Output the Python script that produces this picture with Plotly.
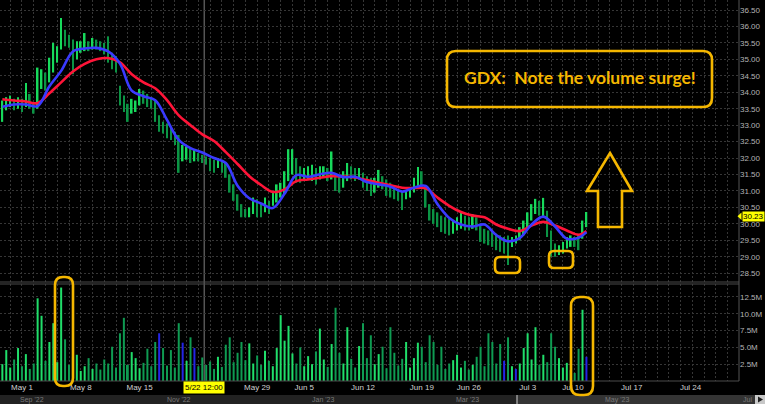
import plotly.graph_objects as go

W, H = 765, 404
MR, MB = 26, 23
PW, PH = W - MR, H - MB


def fx(px):
    return px / PW


def fy(py):
    return (PH - py) / PH


# ---------------- data ----------------
first_day = -1.67          # session offset of the first bar (May 1 = 0)
bars_per_day = 3

high = [33.75, 33.85, 33.90, 33.80, 33.85, 33.80, 34.28, 33.95, 33.70, 34.75,
        34.70, 34.60, 35.05, 35.50, 35.40, 36.26, 35.90, 35.75, 35.60, 35.55,
        35.55, 35.80, 35.55, 35.65, 35.60, 35.55, 35.50, 35.70, 35.20, 35.10,
        34.20, 33.90, 33.65, 33.80, 33.75, 34.10, 34.05, 33.95, 33.85, 33.75,
        33.30, 33.10, 33.05, 32.95, 32.80, 32.70, 32.40, 32.35, 32.30, 32.25,
        32.15, 32.10, 32.05, 32.00, 31.95, 32.00, 31.90, 31.85, 31.50, 31.20,
        30.90, 30.60, 30.45, 30.50, 30.80, 30.75, 30.60, 30.80, 30.70, 31.00,
        31.20, 31.25, 31.60, 32.27, 32.27, 32.00, 31.75, 31.70, 31.75, 31.80,
        31.70, 31.75, 31.75, 31.70, 32.20, 31.55, 31.45, 31.60, 31.85, 31.75,
        31.70, 31.70, 31.55, 31.45, 31.40, 31.40, 31.64, 31.45, 31.35, 31.25,
        31.15, 31.05, 31.00, 31.00, 31.05, 31.40, 31.73, 31.60, 31.10, 30.60,
        30.45, 30.35, 30.25, 30.20, 30.15, 30.10, 30.20, 30.36, 30.25, 30.20,
        30.30, 30.20, 30.00, 29.85, 29.80, 29.75, 29.70, 29.65, 29.60, 29.65,
        29.60, 29.65, 29.90, 30.10, 30.35, 30.60, 30.76, 30.70, 30.79, 30.40,
        29.80, 29.40, 29.35, 29.45, 29.60, 29.65, 29.60, 29.70, 30.10, 30.36]

low = [33.10, 33.45, 33.55, 33.45, 33.50, 33.40, 33.55, 33.50, 33.35, 33.50,
       34.10, 34.05, 34.30, 34.60, 34.90, 35.30, 35.40, 35.35, 34.55, 35.00,
       35.20, 35.25, 35.25, 35.30, 35.30, 35.25, 35.15, 34.90, 34.70, 34.60,
       33.60, 33.40, 33.10, 33.35, 33.40, 33.60, 33.65, 33.55, 33.50, 33.10,
       32.80, 32.75, 32.60, 32.55, 32.40, 31.55, 31.90, 31.95, 31.85, 31.90,
       31.90, 31.85, 31.80, 31.60, 31.55, 31.70, 31.55, 31.40, 30.95, 30.70,
       30.40, 30.20, 30.20, 30.20, 30.30, 30.20, 30.20, 30.35, 30.30, 30.55,
       30.65, 30.80, 30.90, 31.30, 31.50, 31.25, 31.25, 31.30, 31.35, 31.30,
       31.20, 31.35, 31.40, 31.30, 31.35, 31.00, 30.95, 31.10, 31.30, 31.35,
       31.30, 31.35, 31.10, 31.00, 30.85, 30.95, 31.10, 31.05, 30.85, 30.80,
       30.75, 30.70, 30.42, 30.75, 30.80, 30.95, 31.15, 31.10, 30.50, 30.10,
       30.00, 29.90, 29.75, 29.70, 29.65, 29.70, 29.80, 29.85, 29.80, 29.80,
       29.85, 29.80, 29.45, 29.40, 29.35, 29.30, 29.20, 29.15, 29.10, 28.75,
       29.30, 29.40, 29.50, 29.65, 29.90, 30.10, 30.30, 30.25, 30.20, 29.60,
       29.00, 29.00, 29.05, 29.10, 29.25, 29.30, 29.30, 29.20, 29.55, 29.90]

volume_m = [2.5, 4.6, 2.0, 3.2, 4.9, 2.2, 4.0, 1.8, 2.6, 12.3,
            9.7, 3.0, 5.8, 8.6, 2.8, 13.9, 6.2, 2.4, 3.6, 3.9,
            1.5, 2.2, 3.4, 1.8, 2.6, 1.7, 3.2, 2.6, 5.1, 2.0,
            7.1, 9.4, 2.4, 4.3, 3.4, 1.9, 2.7, 4.8, 2.2, 5.8,
            7.1, 4.9, 2.3, 4.6, 2.0, 8.6, 5.7, 3.0, 6.5, 4.9,
            2.2, 3.5, 2.4, 2.9, 1.8, 3.6, 2.1, 5.4, 6.5, 2.8,
            4.2, 5.8, 3.1, 5.6, 2.6, 3.8, 2.4, 4.5, 3.0, 2.2,
            4.9, 9.8, 6.0, 8.2, 4.1, 2.6, 5.0, 2.2, 3.7, 2.5,
            4.4, 7.8, 3.2, 2.1, 5.5, 10.9, 4.2, 2.6, 8.0, 3.3,
            2.0, 5.2, 8.6, 3.4, 6.8, 2.5, 4.0, 5.1, 1.9, 8.0,
            4.2, 2.3, 3.3, 5.8, 2.0, 3.4, 5.7, 5.1, 2.8, 6.8,
            5.8, 2.4, 5.1, 1.8, 2.6, 3.1, 3.9, 2.0, 3.0, 1.7,
            2.4, 3.6, 5.1, 2.2, 7.1, 5.8, 2.6, 5.5, 3.0, 6.5,
            2.2, 1.8, 2.6, 4.9, 7.1, 3.2, 8.0, 2.4, 3.9, 2.8,
            7.1, 5.1, 3.4, 2.0, 2.7, 1.6, 1.2, 4.8, 10.6, 3.6]

flat_bars = [40, 46, 49, 128, 131, 149]

ma_fast = [33.56, 33.63, 33.63, 33.58, 34.18, 34.65, 35.24, 35.33, 35.35, 35.24,
           34.87, 34.05, 33.88, 33.76, 33.16, 32.55, 32.30, 32.17, 32.00, 31.85,
           31.16, 30.78, 30.62, 30.48, 30.92, 31.48, 31.43, 31.51, 31.55, 31.42,
           31.43, 31.27, 31.20, 31.13, 30.98, 31.10, 31.15, 30.60, 30.18, 29.98,
           29.92, 29.98, 29.66, 29.47, 29.57, 29.98, 30.22, 29.92, 29.55, 29.58, 29.75]

ma_slow = [33.79, 33.75, 33.72, 33.67, 33.97, 34.30, 34.63, 34.86, 35.00, 35.04,
           34.91, 34.55, 34.30, 34.12, 33.76, 33.30, 33.00, 32.72, 32.52, 32.18,
           31.82, 31.45, 31.18, 30.97, 31.05, 31.30, 31.35, 31.40, 31.45, 31.44,
           31.41, 31.33, 31.25, 31.17, 31.10, 31.09, 31.08, 30.80, 30.55, 30.36,
           30.25, 30.20, 29.98, 29.85, 29.78, 29.95, 30.06, 29.95, 29.80, 29.67, 29.78]

tick_days = [0, 5, 10, 20, 24, 29, 34, 38, 43, 46.85, 51.85, 56.85]
tick_labels = ["May 1", "May 8", "May 15", "May 29", "Jun 5", "Jun 12",
               "Jun 19", "Jun 26", "Jul 3", "Jul 10", "Jul 17", "Jul 24"]

price_ticks = [28.5, 29.0, 29.5, 30.0, 30.5, 31.0, 31.5, 32.0, 32.5, 33.0,
               33.5, 34.0, 34.5, 35.0, 35.5, 36.0, 36.5]
vol_ticks = [2.5, 5.0, 7.5, 10.0, 12.5]
vol_labels = ["2.5M", "5.0M", "7.5M", "10.0M", "12.5M"]

last_price = 30.23
crosshair_day = 15.5
crosshair_label = "5/22 12:00"
overview_labels = ["Sep '22", "Nov '22", "Jan '23", "Mar '23", "May '23", "Jul"]

x_range = [-1.87, 60.97]
price_range = [28.233, 36.804]
vol_range = [0, 14.43]

# ---------------- derived ----------------
n = len(high)
bar_x = [first_day + i / bars_per_day for i in range(n)]
mid = [(h + l) / 2 for h, l in zip(high, low)]
up = [True] + [mid[i] >= mid[i - 1] for i in range(1, n)]
price_colors = ['#17d95b' if u else '#0b9444' for u in up]
vol_colors = ['#2424e6' if i in flat_bars else ('#20de6a' if up[i] else '#0f9b52')
              for i in range(n)]
ma_x = bar_x[::3] + [bar_x[-1]]

GOLD = '#f5b700'
fig = go.Figure()
fig.add_trace(go.Bar(x=bar_x, y=[h - l for h, l in zip(high, low)], base=low,
                     width=0.14, marker=dict(color=price_colors, line_width=0),
                     xaxis='x', yaxis='y', hoverinfo='skip'))
fig.add_trace(go.Scatter(x=ma_x, y=ma_slow, mode='lines',
                         line=dict(color='#ff1438', width=2.6, shape='spline'),
                         xaxis='x', yaxis='y', hoverinfo='skip'))
fig.add_trace(go.Scatter(x=ma_x, y=ma_fast, mode='lines',
                         line=dict(color='#3a3aff', width=2.6, shape='spline'),
                         xaxis='x', yaxis='y', hoverinfo='skip'))
fig.add_trace(go.Bar(x=bar_x, y=volume_m, width=0.17,
                     marker=dict(color=vol_colors, line_width=0),
                     xaxis='x2', yaxis='y2', hoverinfo='skip'))

grid = dict(gridcolor='#363636', griddash='2px,2px', gridwidth=1)
tfont = dict(family='Liberation Sans, Arial', size=8, color='#b4b4b4')

fig.update_layout(
    width=W, height=H, margin=dict(l=0, r=MR, t=0, b=MB),
    paper_bgcolor='black', plot_bgcolor='black', showlegend=False,
    xaxis=dict(domain=[0, 1], range=x_range, anchor='y', showticklabels=False,
               tickmode='linear', tick0=0, dtick=1, showgrid=True, ticks='',
               zeroline=False, **grid),
    xaxis2=dict(domain=[0, 1], range=x_range, anchor='y2', matches='x',
                tickmode='array', tickvals=tick_days, ticktext=tick_labels,
                showgrid=False, ticks='', zeroline=False,
                tickfont=dict(family='Liberation Sans, Arial', size=8, color='#d0d0d0'),
                minor=dict(tickmode='linear', tick0=0, dtick=1, showgrid=True, ticks='', **grid)),
    yaxis=dict(domain=[fy(282), 1], range=price_range, side='right', anchor='x',
               tickmode='array', tickvals=price_ticks, tickformat='.2f',
               showgrid=True, ticks='', zeroline=False, tickfont=tfont, **grid),
    yaxis2=dict(domain=[0, fy(284)], range=vol_range, side='right', anchor='x2',
                tickmode='array', tickvals=vol_ticks, ticktext=vol_labels,
                showgrid=True, ticks='', zeroline=False, tickfont=tfont, **grid),
)


def P(px, py):
    return f"{fx(px):.5f},{fy(py):.5f}"


def rrect(x0, y0, x1, y1, r):
    return (f"M {P(x0 + r, y0)} L {P(x1 - r, y0)} Q {P(x1, y0)} {P(x1, y0 + r)} "
            f"L {P(x1, y1 - r)} Q {P(x1, y1)} {P(x1 - r, y1)} "
            f"L {P(x0 + r, y1)} Q {P(x0, y1)} {P(x0, y1 - r)} "
            f"L {P(x0, y0 + r)} Q {P(x0, y0)} {P(x0 + r, y0)} Z")


shapes = []
# crosshair
shapes.append(dict(type='line', xref='x', yref='paper', x0=crosshair_day, x1=crosshair_day,
                   y0=0, y1=1, line=dict(color='#555555', width=1.5), layer='below'))
# pane separators / borders
for py in (282, 284, 381):
    shapes.append(dict(type='line', xref='paper', yref='paper', x0=0, x1=1,
                       y0=fy(py), y1=fy(py), line=dict(color='#4a4a4a', width=1), layer='above'))
shapes.append(dict(type='line', xref='paper', yref='paper', x0=1, x1=1, y0=0, y1=1,
                   line=dict(color='#555555', width=1), layer='above'))
# overview / scrollbar strip
shapes.append(dict(type='rect', xref='paper', yref='paper', x0=fx(0), x1=fx(765),
                   y0=fy(404), y1=fy(395), fillcolor='#222222', line_width=0, layer='above'))
shapes.append(dict(type='rect', xref='paper', yref='paper', x0=fx(517), x1=fx(755),
                   y0=fy(404), y1=fy(395), fillcolor='#343434', line_width=0, layer='above'))
shapes.append(dict(type='line', xref='paper', yref='paper', x0=fx(517), x1=fx(517),
                   y0=fy(404), y1=fy(395), line=dict(color='#9a9a9a', width=1.5), layer='above'))
shapes.append(dict(type='rect', xref='paper', yref='paper', x0=fx(755), x1=fx(765),
                   y0=fy(404), y1=fy(395), fillcolor='#c8c8c8', line_width=0, layer='above'))
shapes.append(dict(type='path', xref='paper', yref='paper',
                   path=f"M {P(758, 396.5)} L {P(763, 399.5)} L {P(758, 402.5)} Z",
                   fillcolor='#202020', line_width=0, layer='above'))
# last price pointer
shapes.append(dict(type='path', xref='paper', yref='paper',
                   path=f"M {P(737.5, 216.3)} L {P(741.5, 212.5)} L {P(741.5, 220.1)} Z",
                   fillcolor='#ffff00', line_width=0, layer='above'))
# gold callouts
gold_line = dict(color=GOLD, width=2.6)
shapes.append(dict(type='path', xref='paper', yref='paper', path=rrect(447, 51, 712, 107, 9),
                   line=gold_line, layer='above'))
shapes.append(dict(type='path', xref='paper', yref='paper', path=rrect(495, 257, 520, 273, 5),
                   line=gold_line, layer='above'))
shapes.append(dict(type='path', xref='paper', yref='paper', path=rrect(549, 251, 573, 268, 5),
                   line=gold_line, layer='above'))
shapes.append(dict(type='path', xref='paper', yref='paper', path=rrect(55, 277, 73, 386, 8),
                   line=gold_line, layer='above'))
shapes.append(dict(type='path', xref='paper', yref='paper', path=rrect(571, 297, 593, 395, 9),
                   line=gold_line, layer='above'))
shapes.append(dict(type='path', xref='paper', yref='paper',
                   path=(f"M {P(610, 153)} L {P(632, 191)} L {P(622, 191)} L {P(622, 227)} "
                         f"L {P(598, 227)} L {P(598, 191)} L {P(587, 191)} Z"),
                   line=gold_line, layer='above'))
fig.update_layout(shapes=shapes)

ann = []
ann.append(dict(xref='paper', yref='paper', x=fx(580), y=fy(78), xanchor='center',
                yanchor='middle', showarrow=False,
                text="<b>GDX:\u00a0 Note the volume surge!</b>",
                font=dict(family='Lato, Open Sans', size=17.5, color=GOLD)))
ann.append(dict(xref='x', yref='paper', x=crosshair_day, y=fy(387.5), xanchor='center',
                yanchor='middle', showarrow=False,
                text=crosshair_label, bgcolor='#ffff00', borderpad=1,
                font=dict(family='Liberation Sans, Arial', size=8, color='black')))
ann.append(dict(xref='paper', yref='y', x=fx(741.5), y=last_price, xanchor='left',
                yanchor='middle', showarrow=False, text=f"{last_price:.2f}",
                bgcolor='#ffff00', borderpad=0,
                font=dict(family='Liberation Sans, Arial', size=8, color='black')))
for lab, px in zip(overview_labels, [32, 179, 323, 468, 617, 747]):
    ann.append(dict(xref='paper', yref='paper', x=fx(px), y=fy(399.7), xanchor='center',
                    yanchor='middle', showarrow=False, text=lab,
                    font=dict(family='Liberation Sans, Arial', size=7, color='#7a7a7a')))
fig.update_layout(annotations=ann)

fig.write_html("out.html", config={'displayModeBar': False},
               post_script="document.body.style.margin='0px';")
